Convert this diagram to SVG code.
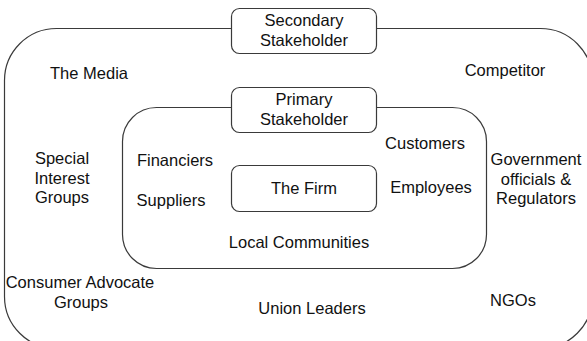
<svg xmlns="http://www.w3.org/2000/svg" width="587" height="341" viewBox="0 0 587 341">
<style>
.frame{fill:none;stroke:#3a3a3a;stroke-width:1.2}
.box{fill:#fff;stroke:#3a3a3a;stroke-width:1.2}
text{font-family:"Liberation Sans",Arial,sans-serif;font-size:16.5px;fill:#111;text-anchor:middle}
</style>
<rect width="587" height="341" fill="#fff"/>
<g id="connectors">
<rect id="outer" class="frame" x="4.5" y="28.5" width="588" height="320" rx="52" ry="52"/>
<rect id="inner" class="frame" x="122.5" y="107.5" width="364" height="161" rx="34" ry="34"/>
</g>
<g id="secondary"><rect class="box" x="231.5" y="8.5" width="145" height="45" rx="8"/><text x="304" y="26">Secondary</text><text x="304" y="46">Stakeholder</text></g>
<g id="primary"><rect class="box" x="231.5" y="87.5" width="145" height="45" rx="8"/><text x="304" y="105">Primary</text><text x="304" y="125">Stakeholder</text></g>
<g id="firm"><rect class="box" x="231.5" y="165.5" width="145" height="46" rx="8"/><text x="304" y="194">The Firm</text></g>
<g id="media"><text x="89" y="79">The Media</text></g>
<g id="competitor"><text x="505" y="76">Competitor</text></g>
<g id="customers"><text x="425" y="149">Customers</text></g>
<g id="government"><text x="536" y="165">Government</text><text x="536" y="185">officials &amp;</text><text x="536" y="204">Regulators</text></g>
<g id="special"><text x="62" y="164">Special</text><text x="62" y="184">Interest</text><text x="62" y="203">Groups</text></g>
<g id="financiers"><text x="175" y="166">Financiers</text></g>
<g id="suppliers"><text x="171" y="206">Suppliers</text></g>
<g id="employees"><text x="431" y="193">Employees</text></g>
<g id="local"><text x="299" y="248">Local Communities</text></g>
<g id="consumer"><text x="80" y="288">Consumer Advocate</text><text x="81" y="308">Groups</text></g>
<g id="union"><text x="312" y="314">Union Leaders</text></g>
<g id="ngos"><text x="513" y="306">NGOs</text></g>
</svg>
